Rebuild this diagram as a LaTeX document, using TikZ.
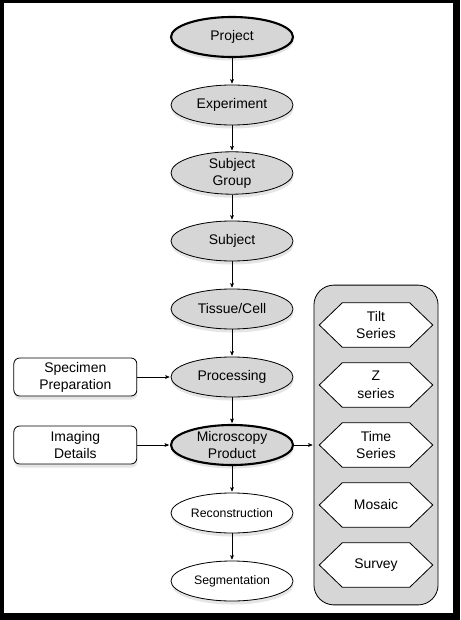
\documentclass[tikz,border=0pt]{standalone}
\usepackage{fontspec}
\setmainfont{Liberation Sans}
\usetikzlibrary{arrows, positioning, shapes.geometric, shadows, fit, backgrounds}

\begin{document}
\begin{tikzpicture}[
                    node distance=2.04cm,
                    level/.style={ellipse, draw, fill=black!16, line width=0.7pt, minimum width=3.66cm, minimum height=1.2cm, inner sep=0pt, align=center, font=\fontsize{11.9}{14.5}\selectfont, drop shadow={shadow xshift=0.5pt, shadow yshift=-3pt, fill=black!20}},
                    key/.style={level, line width=1.8pt},
                    result/.style={level, fill=white, font=\fontsize{10.5}{13}\selectfont},
                    detail/.style={rectangle, rounded corners=5pt, draw, fill=white, line width=0.7pt, minimum width=3.69cm, minimum height=1.14cm, inner sep=0pt, align=center, font=\fontsize{11.9}{14.5}\selectfont, drop shadow={shadow xshift=0.5pt, shadow yshift=-3pt, fill=black!20}},
                    kind/.style={rectangle, minimum width=3.39cm, minimum height=1.32cm, inner sep=0pt, align=center, font=\fontsize{11.9}{15}\selectfont},
                    hexa/.style={-, shorten >=0pt, draw, fill=white, line width=0.7pt},
                    ->,>=stealth',shorten >=1pt
                ]

                \useasboundingbox (0,0) rectangle (13.8,-18.6);

                % Define the main nodes
                \node[key] (proj) at (6.96,-1.11) {Project};
                \node[level, below of=proj] (exp) {Experiment};
                \node[level, below of=exp] (group) {Subject\\Group};
                \node[level, below of=group] (subj) {Subject};
                \node[level, below of=subj] (tissue) {Tissue/Cell};
                \node[level, below of=tissue] (proc) {Processing};
                \node[key, below of=proc] (micro) {Microscopy\\Product};
                \node[result, below of=micro] (recon) {Reconstruction};
                \node[result, below of=recon] (seg) {Segmentation};

                % Define the detail boxes on the left
                \node[detail, left of=proc, node distance=4.7cm] (prep) {Specimen\\Preparation};
                \node[detail, left of=micro, node distance=4.7cm] (imaging) {Imaging\\Details};

                % Define the product kinds on the right
                \node[kind, right of=micro, node distance=4.32cm] (time) {Time\\Series};
                \node[kind, above of=time, node distance=1.8cm] (zser) {Z\\series};
                \node[kind, above of=zser, node distance=1.8cm] (tilt) {Tilt\\Series};
                \node[kind, below of=time, node distance=1.8cm] (mosaic) {Mosaic};
                \node[kind, below of=mosaic, node distance=1.8cm] (survey) {Survey};

                % Frame, the box round the product kinds and the hexagons
                \begin{scope}[on background layer]
                    \fill[black] (0,0) rectangle (13.8,-18.6);
                    \fill[white] (0.12,-0.09) rectangle (13.59,-18.39);
                    \node[draw, fill=black!16, line width=0.7pt, rounded corners=0.6cm, fit=(tilt)(survey), inner xsep=0.16cm, inner ysep=0.53cm] (kinds) {};
                    \foreach \k in {tilt, zser, time, mosaic, survey}
                        \draw[hexa] (\k.west) -- ([xshift=0.69cm]\k.north west) -- ([xshift=-0.69cm]\k.north east)
                            -- (\k.east) -- ([xshift=-0.69cm]\k.south east) -- ([xshift=0.69cm]\k.south west) -- cycle;
                \end{scope}

                % Draw the arrows
                \draw[->] (proj) -- (exp);
                \draw[->] (exp) -- (group);
                \draw[->] (group) -- (subj);
                \draw[->] (subj) -- (tissue);
                \draw[->] (tissue) -- (proc);
                \draw[->] (proc) -- (micro);
                \draw[->] (micro) -- (recon);
                \draw[->] (recon) -- (seg);

                \draw[->] (prep) -- (proc);
                \draw[->] (imaging) -- (micro);
                \draw[->] (micro) -- (micro -| kinds.west);
\end{tikzpicture}
\end{document}
